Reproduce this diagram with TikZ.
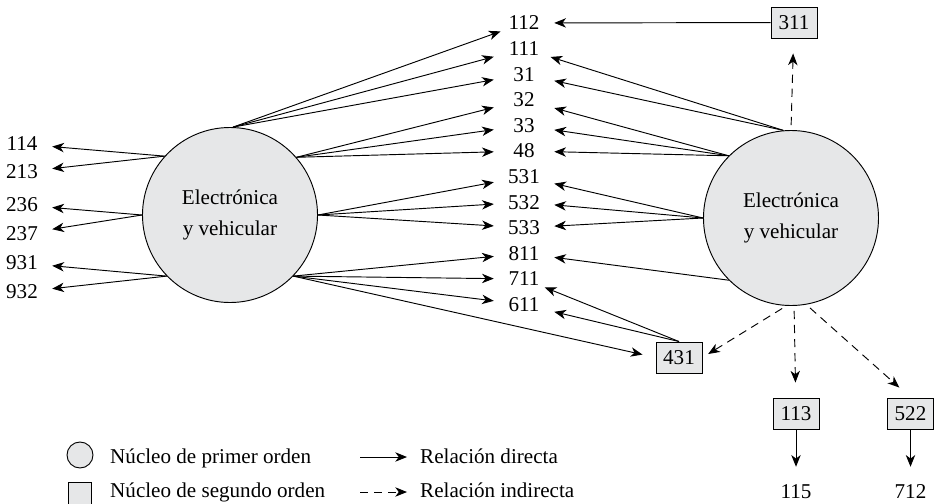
\documentclass[tikz,border=0pt]{standalone}
\usepackage{fontspec}
\setmainfont{Liberation Serif}
\usetikzlibrary{arrows.meta,positioning}
\definecolor{corefill}{RGB}{230,231,232}

\begin{document}
\begin{tikzpicture}[
    x=0.03cm, y=-0.03cm,
    font=\fontsize{18}{21}\selectfont,
    core/.style={circle, draw, fill=corefill, minimum size=5.25cm, align=center, font=\fontsize{18}{27}\selectfont, line width=0.8pt},
    subcore/.style={rectangle, draw, fill=corefill, minimum width=1.38cm, minimum height=0.93cm, inner sep=1pt, line width=0.8pt},
    code/.style={minimum width=1.8cm, inner sep=1pt},
    direct/.style={line width=0.8pt, -{Stealth[length=10pt,width=8pt,inset=3pt]}},
    indirect/.style={direct, dash pattern=on 7pt off 5pt, shorten >=0.45cm, shorten <=0.15cm}
]
\useasboundingbox (0,0) rectangle (934,503);

% First order cores
\node[core] (L) at (230,215) {Electrónica\\y vehicular};
\node[core] (R) at (791,218) {Electrónica\\y vehicular};

% Second order cores
\node[subcore] (b311) at (794,22.5) {311};
\node[subcore] (b431) at (679,357.5) {431};
\node[subcore] (b113) at (796,413.5) {113};
\node[subcore] (b522) at (910.5,413.5) {522};

% Codes
\foreach \lbl [count=\i from 0] in {112,111,31,32,33,48,531,532,533,811,711,611}
    \node[code] (c\lbl) at (524,{23+25.6*\i}) {\lbl};

\node[code] (n114) at (22,144) {114};
\node[code] (n213) at (22,172) {213};
\node[code] (n236) at (22,205) {236};
\node[code] (n237) at (22,234) {237};
\node[code] (n931) at (22,263) {931};
\node[code] (n932) at (22,292) {932};

\node[code, minimum height=1.5cm] (n115) at (796,492) {115};
\node[code, minimum height=1.5cm] (n712) at (910.5,492) {712};

% Direct relations, left core
\draw[direct] (L.88) -- (c112);
\draw[direct] (L.88) -- (c111);
\draw[direct] (L.88) -- (c31);
\draw[direct] (L.41) -- (c32);
\draw[direct] (L.41) -- (c33);
\draw[direct] (L.41) -- (c48);
\draw[direct] (L.0) -- (c531);
\draw[direct] (L.0) -- (c532);
\draw[direct] (L.0) -- (c533);
\draw[direct] (L.-44) -- (c811);
\draw[direct] (L.-44) -- (c711);
\draw[direct] (L.-44) -- (c611);
\draw[direct, shorten >=0.4cm] (L.-44) -- (b431.west);
\draw[direct] (L.138) -- (n114);
\draw[direct] (L.138) -- (n213);
\draw[direct] (L.180) -- (n236);
\draw[direct] (L.180) -- (n237);
\draw[direct] (L.224) -- (n931);
\draw[direct] (L.224) -- (n932);

% Direct relations, right core
\draw[direct] (b311) -- (c112);
\draw[direct] (R.95) -- (c111);
\draw[direct] (R.95) -- (c31);
\draw[direct] (R.135) -- (c32);
\draw[direct] (R.135) -- (c33);
\draw[direct] (R.135) -- (c48);
\draw[direct] (R.180) -- (c531);
\draw[direct] (R.180) -- (c532);
\draw[direct] (R.180) -- (c533);
\draw[direct] (R.225) -- (c811);
\draw[direct] (b431.north) -- (c711);
\draw[direct] (b431.north) -- (c611);
\draw[direct] (b113) -- (n115);
\draw[direct] (b522) -- (n712);

% Indirect relations
\draw[indirect] (R.90) -- (b311);
\draw[indirect, shorten >=0.2cm] (R.-93) -- (b431.east);
\draw[indirect] (R.-88) -- (b113);
\draw[indirect] (R.-80) -- (b522.north);

% Legend
\node[core, minimum size=0.78cm] (keycore) at (80,455) {};
\node[subcore, minimum width=0.69cm, minimum height=0.69cm] (keysub) at (79.5,493.5) {};
\node[anchor=base west, inner xsep=0pt] (keycoretxt) at (110,463) {Núcleo de primer orden};
\node[anchor=base west, inner xsep=0pt] (keysubtxt) at (110,497) {Núcleo de segundo orden};
\coordinate (dirA) at (360,457);
\coordinate (dirB) at (407,457);
\coordinate (indA) at (360,492);
\coordinate (indB) at (407,492);
\draw[direct] (dirA) -- (dirB);
\draw[direct, dash pattern=on 7pt off 5pt] (indA) -- (indB);
\node[anchor=base west, inner xsep=0pt] (dirtxt) at (420,463) {Relación directa};
\node[anchor=base west, inner xsep=0pt] (indtxt) at (420,497) {Relación indirecta};

\end{tikzpicture}
\end{document}
